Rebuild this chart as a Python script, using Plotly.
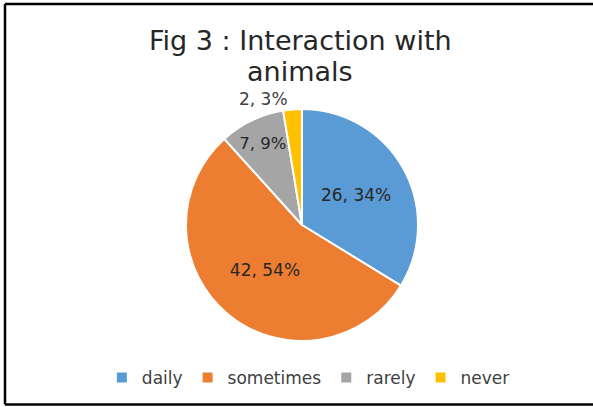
import plotly.graph_objects as go

categories = ["daily", "sometimes", "rarely", "never"]
values = [26, 42, 7, 2]
percent_labels = ["34%", "54%", "9%", "3%"]
title_lines = ["Fig 3 : Interaction with", "animals"]
colors = ["#5B9BD5", "#ED7D31", "#A5A5A5", "#FFC000"]

W, H = 593, 407
cx, cy, r = 302, 225, 116
FONT = "DejaVu Sans, sans-serif"

labels_text = [f"{v}, {p}" for v, p in zip(values, percent_labels)]

fig = go.Figure(go.Pie(
    labels=categories,
    values=values,
    text=labels_text,
    textinfo="text",
    textposition=["inside", "inside", "inside", "outside"],
    insidetextorientation="horizontal",
    sort=False,
    direction="clockwise",
    rotation=0,
    marker=dict(colors=colors, line=dict(color="white", width=2)),
    textfont=dict(family=FONT, size=17, color="#262626"),
    outsidetextfont=dict(family=FONT, size=17, color="#404040"),
    domain=dict(x=[(cx - r) / W, (cx + r) / W], y=[(H - cy - r) / H, (H - cy + r) / H]),
    showlegend=True,
))

title_y = [40, 71]
annotations = [
    dict(text=t, xref="paper", yref="paper", x=300 / W, y=1 - yy / H,
         xanchor="center", yanchor="middle", showarrow=False,
         font=dict(family=FONT, size=27, color="#262626"))
    for t, yy in zip(title_lines, title_y)
]

left, top, bottom = 5 / W, 1 - 4 / H, 1 - 404.5 / H
border = dict(color="black", width=2.5)
shapes = [
    dict(type="line", xref="paper", yref="paper", x0=left, x1=1.2, y0=top, y1=top, line=border),
    dict(type="line", xref="paper", yref="paper", x0=left, x1=1.2, y0=bottom, y1=bottom, line=border),
    dict(type="line", xref="paper", yref="paper", x0=left, x1=left, y0=bottom, y1=top, line=border),
]

fig.update_layout(
    width=W, height=H,
    margin=dict(l=0, r=0, t=0, b=0),
    paper_bgcolor="white",
    plot_bgcolor="white",
    annotations=annotations,
    legend=dict(
        orientation="h",
        x=0.52, xanchor="center",
        y=1 - 378 / H, yanchor="middle",
        font=dict(family=FONT, size=17, color="#404040"),
        itemwidth=30,
    ),
    shapes=shapes,
)

fig.write_html("out.html", config={"displayModeBar": False},
               post_script="document.body.style.margin='0';")
